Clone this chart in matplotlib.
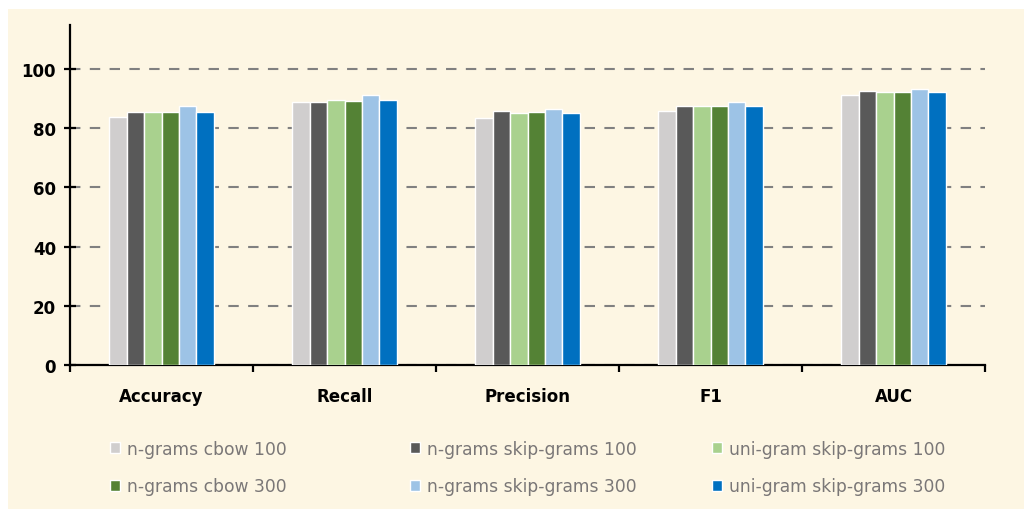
import matplotlib.pyplot as plt
import numpy as np
from matplotlib.patches import Rectangle

metrics = ["Accuracy", "Recall", "Precision", "F1", "AUC"]
series = ["n-grams cbow 100", "n-grams skip-grams 100", "uni-gram skip-grams 100",
          "n-grams cbow 300", "n-grams skip-grams 300", "uni-gram skip-grams 300"]
cbow_100 = [83.7, 88.9, 83.4, 85.9, 91.3]
skip_100 = [85.5, 88.7, 85.8, 87.4, 92.6]
uni_100 = [85.5, 89.4, 85.2, 87.4, 92.2]
cbow_300 = [85.5, 89.1, 85.6, 87.4, 92.2]
skip_300 = [87.4, 91.2, 86.5, 88.7, 93.3]
uni_300 = [85.5, 89.4, 85.2, 87.4, 92.2]
colors = ["#D0CECE", "#595959", "#A9D18E", "#548235", "#9DC3E6", "#0070C0"]

values = [cbow_100, skip_100, uni_100, cbow_300, skip_300, uni_300]

fig = plt.figure(figsize=(10.24, 5.10), dpi=100)
fig.patch.set_facecolor("white")
# cream panel behind everything
fig.patches.append(Rectangle((8 / 1024, 0), 1, 1 - 10 / 510, transform=fig.transFigure,
                             facecolor="#FDF6E3", edgecolor="none", zorder=-10))

ax = fig.add_axes([0.0684, 0.2824, 0.8936, 0.6674])
ax.set_facecolor("none")

x = np.arange(len(metrics))
w = 0.095
handles = []
for i, (vals, name, c) in enumerate(zip(values, series, colors)):
    b = ax.bar(x + (i - 2.5) * w, vals, width=w, color=c, edgecolor="white",
               linewidth=1, label=name, zorder=3)
    handles.append(b)

ax.set_xlim(-0.5, len(metrics) - 0.5)
ax.set_ylim(0, 115)
ax.set_yticks(range(0, 101, 20))
ax.yaxis.grid(True, color="#808080", linestyle=(0, (5, 4.5)), linewidth=1.5, zorder=0)
ax.set_axisbelow(True)

for s in ["top", "right"]:
    ax.spines[s].set_visible(False)
for s in ["left", "bottom"]:
    ax.spines[s].set_linewidth(1.6)
    ax.spines[s].set_color("black")

ax.tick_params(axis="y", direction="inout", length=8, width=1.6, labelsize=12, pad=6)
ax.set_xticks(np.arange(len(metrics) + 1) - 0.5)
ax.set_xticklabels([])
ax.tick_params(axis="x", direction="out", length=5, width=1.6)
ax.set_xticks(x, minor=True)
ax.set_xticklabels(metrics, minor=True)
ax.tick_params(axis="x", which="minor", length=0, labelsize=12, pad=16)
for lab in ax.get_yticklabels() + ax.get_xticklabels(minor=True):
    lab.set_fontweight("bold")

# legend laid out as three equal-width columns, two rows each
col_x = [110 / 1024, 410 / 1024, 712 / 1024]
for k in range(3):
    idx = [k, k + 3]
    leg = fig.legend([handles[i] for i in idx], [series[i] for i in idx],
                     loc="center left", bbox_to_anchor=(col_x[k], 0.0814),
                     frameon=False, fontsize=12.3, handlelength=0.6, handleheight=0.6,
                     handletextpad=0.4, labelspacing=1.15, borderpad=0, borderaxespad=0)
    for t in leg.get_texts():
        t.set_color("#7A7777")

fig.savefig("out.png", dpi=100)
